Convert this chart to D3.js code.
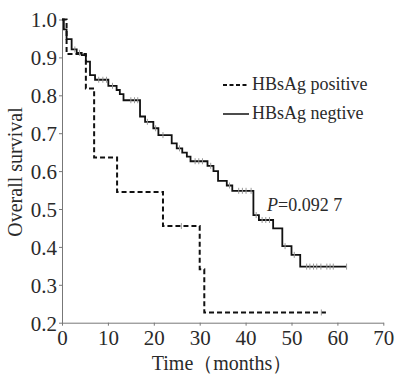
<!DOCTYPE html>
<html>
<head>
<meta charset="utf-8">
<script src="https://cdn.jsdelivr.net/npm/d3@7"></script>
<style>
  body { margin: 0; background: #fff; }
</style>
</head>
<body>
<div id="chart"></div>
<script>
// HBsAg positive: event times (months) and survival after each step
const posTime = [0, 1, 5.2, 7, 12, 22, 30, 31, 57.5];
const posSurv = [1.0, 0.909, 0.818, 0.636, 0.545, 0.455, 0.341, 0.227, 0.227];
const posCensor = [26, 56.5];

// HBsAg negative
const negTime = [0, 0.4, 1.0, 2.1, 3.2, 4.3, 5.2, 6.1, 7.2, 10.1, 11.9, 12.6, 13.4, 17.0, 18.1, 19.9, 21.0,
  23.9, 25.0, 26.2, 27.2, 28.0, 31.7, 33.0, 34.0, 35.9, 37.1, 41.7, 42.9, 46.0, 48.0, 50.0, 51.9, 62];
const negSurv = [1.0, 0.974, 0.948, 0.921, 0.912, 0.906, 0.889, 0.853, 0.841, 0.825, 0.814, 0.803, 0.787, 0.744, 0.73, 0.713, 0.695,
  0.673, 0.66, 0.649, 0.638, 0.626, 0.614, 0.600, 0.574, 0.562, 0.548, 0.484, 0.471, 0.449, 0.402, 0.379, 0.348, 0.348];
const negCensor = [2.8, 3.8, 8, 8.9, 9.7, 11, 15, 15.8, 16.5, 18.6, 20.4, 22, 25.6, 29, 29.8, 30.6, 32.4, 36.5,
  38.5, 39.3, 40.1, 41.2, 42.3, 43.6, 44.4, 45.2, 48.6, 50.6, 53.3, 54.0, 54.8, 55.5, 56.4, 57.7, 58.4, 59.1, 62];

const xTicks = [0, 10, 20, 30, 40, 50, 60, 70];
const yTicks = [0.2, 0.3, 0.4, 0.5, 0.6, 0.7, 0.8, 0.9, 1.0];

const FONT = '"Liberation Serif", "Times New Roman", serif';
const W = 395, H = 375;
const svg = d3.select('#chart').append('svg').attr('width', W).attr('height', H)
  .attr('font-family', FONT);

const x = d3.scaleLinear().domain([0, 70]).range([62, 383.3]);
const y = d3.scaleLinear().domain([0.2, 1.0]).range([322.7, 19.5]);

// Axes
svg.append('g')
  .attr('transform', `translate(0,${y(0.2)})`)
  .call(d3.axisBottom(x).tickValues(xTicks).tickSize(3).tickSizeOuter(0).tickPadding(4))
  .attr('font-family', FONT)
  .call(g => g.selectAll('path, line').attr('stroke', '#777'))
  .call(g => g.selectAll('text').style('font-family', FONT).style('font-size', '21px').attr('fill', '#2a2a2a'));

svg.append('g')
  .attr('transform', `translate(${x(0)},0)`)
  .call(d3.axisLeft(y).tickValues(yTicks).tickFormat(d3.format('.1f')).tickSize(3).tickSizeOuter(0).tickPadding(2))
  .attr('font-family', FONT)
  .call(g => g.selectAll('path, line').attr('stroke', '#777'))
  .call(g => g.selectAll('text').style('font-family', FONT).style('font-size', '21px').attr('fill', '#2a2a2a').attr('dy', '0.35em'));

// Axis titles
svg.append('text')
  .attr('x', 222).attr('y', 370)
  .attr('text-anchor', 'middle')
  .style('font-family', FONT).style('font-size', '20px').attr('fill', '#2a2a2a')
  .text('Time（months）');

svg.append('text')
  .attr('transform', `translate(22,${172}) rotate(-90)`)
  .attr('text-anchor', 'middle')
  .style('font-family', FONT).style('font-size', '20px').attr('fill', '#2a2a2a')
  .text('Overall survival');

// Curves
const toPts = (ts, ss) => ts.map((t, i) => [t, ss[i]]);
const line = d3.line().x(d => x(d[0])).y(d => y(d[1])).curve(d3.curveStepAfter);

const stepAt = (ts, ss, t) => {
  let s = ss[0];
  for (let i = 0; i < ts.length; i++) if (ts[i] <= t) s = ss[i];
  return s;
};

svg.append('path')
  .datum(toPts(negTime, negSurv))
  .attr('d', line)
  .attr('fill', 'none').attr('stroke', '#111').attr('stroke-width', 1.8);

svg.append('path')
  .datum(toPts(posTime, posSurv))
  .attr('d', line)
  .attr('fill', 'none').attr('stroke', '#111').attr('stroke-width', 2)
  .attr('stroke-dasharray', '5,3');

// Censor marks
const censors = negCensor.map(t => [t, stepAt(negTime, negSurv, t)])
  .concat(posCensor.map(t => [t, stepAt(posTime, posSurv, t)]));

svg.selectAll('.censor')
  .data(censors)
  .enter()
  .append('line')
  .attr('class', 'censor')
  .attr('x1', d => x(d[0])).attr('x2', d => x(d[0]))
  .attr('y1', d => y(d[1]) - 3).attr('y2', d => y(d[1]) + 3)
  .attr('stroke', '#999').attr('stroke-width', 1);

// Legend
const legend = svg.append('g');
legend.append('line')
  .attr('x1', 223).attr('x2', 249).attr('y1', 85).attr('y2', 85)
  .attr('stroke', '#111').attr('stroke-width', 2).attr('stroke-dasharray', '4,2.5');
legend.append('text')
  .attr('x', 252).attr('y', 90)
  .style('font-family', FONT).style('font-size', '18px').attr('fill', '#2a2a2a')
  .text('HBsAg positive');
legend.append('line')
  .attr('x1', 223).attr('x2', 249).attr('y1', 114).attr('y2', 114)
  .attr('stroke', '#111').attr('stroke-width', 1.5);
legend.append('text')
  .attr('x', 252).attr('y', 119)
  .style('font-family', FONT).style('font-size', '18px').attr('fill', '#2a2a2a')
  .text('HBsAg negtive');

// P value
const pText = svg.append('text')
  .attr('x', 267).attr('y', 211)
  .style('font-family', FONT).style('font-size', '18px').attr('fill', '#2a2a2a');
pText.append('tspan').style('font-style', 'italic').text('P');
pText.append('tspan').text('=0.092 7');
</script>
</body>
</html>
